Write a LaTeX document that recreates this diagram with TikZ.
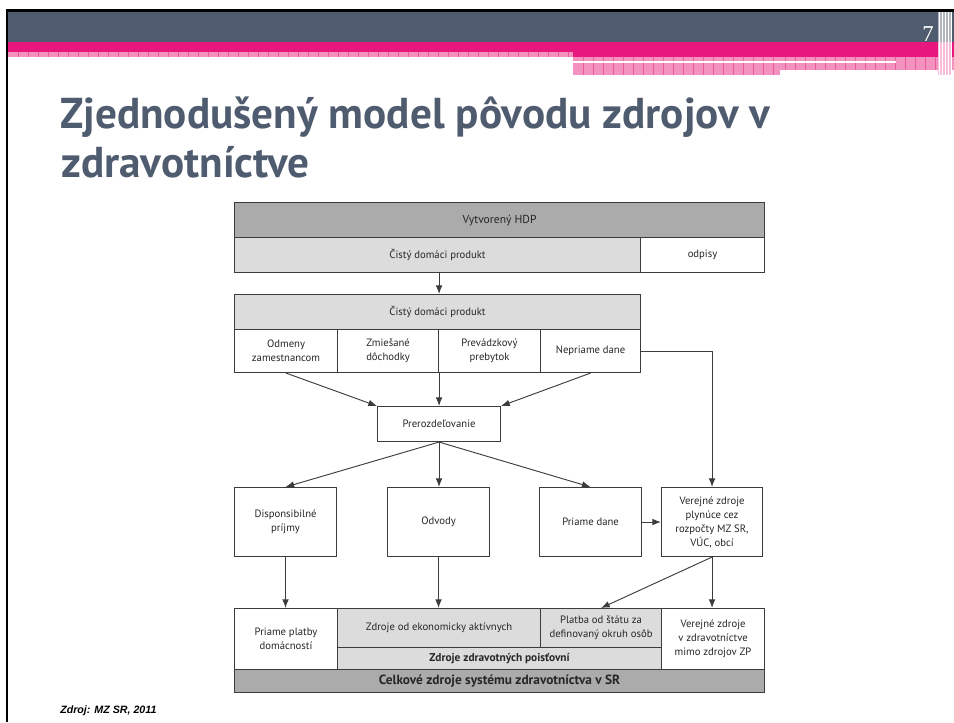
\documentclass[tikz,border=0pt]{standalone}
\usepackage{fontspec}
\setmainfont{PT Sans}
\newfontfamily\footfont{Liberation Sans}
\newfontfamily\numfont{Liberation Serif}
\usetikzlibrary{arrows.meta}

\definecolor{slate}{HTML}{4F5B6E}
\definecolor{pinkband}{HTML}{E8177D}
\definecolor{pinklight}{HTML}{F391BF}
\definecolor{pinkline}{HTML}{EC5A9E}
\definecolor{bandgray}{HTML}{ABABAB}
\definecolor{cellgray}{HTML}{DCDCDC}
\definecolor{linegray}{HTML}{3C3C3C}
\definecolor{textgray}{HTML}{262626}

\tikzset{
  cell/.style={draw=linegray, line width=0.8pt, anchor=north west, inner sep=1pt,
    align=center, text=textgray, font=\fontsize{8}{10.5}\selectfont},
  dims/.style 2 args={minimum width=#1*0.75pt, minimum height=#2*0.75pt},
  flow/.style={draw=linegray, line width=0.7pt, -{Latex[length=6.5pt,width=5pt]}},
}

\begin{document}
\begin{tikzpicture}[x=0.75pt,y=-0.75pt]
	\useasboundingbox (0,0) rectangle (954,722);
	
	% frame and banner
	\fill[black] (6,9) rectangle (954,11.7);
	\fill[black] (6,9) rectangle (8.3,722);
	\fill[slate] (8.3,11.7) rectangle (954,41.7);
	\fill[pinkband] (8.3,41.7) rectangle (954,51.7);
	\fill[pinkband] (573,51.7) rectangle (954,56.7);
	\fill[pinklight] (8.3,51.7) rectangle (573,56.7);
	\fill[pinklight] (573,56.7) rectangle (954,70);
	\fill[pinklight] (573,70) rectangle (780,75);
	\foreach \x in {18,28,...,568}
		\draw[pinkline, line width=0.5pt] (\x,51.7) -- (\x,56.7);
	\foreach \x in {583,593,...,775}
		\draw[pinkline, line width=0.5pt] (\x,56.7) -- (\x,75);
	\foreach \x in {785,795,...,935}
		\draw[pinkline, line width=0.5pt] (\x,56.7) -- (\x,70);
	\fill[white] (573,61.3) rectangle (896,63.3);
	\fill[slate!45!white] (938,11.7) rectangle (952,41.7);
	\fill[pinklight!60!white] (938,41.7) rectangle (952,75);
	\draw[white, line width=0.4pt, step=3] (938,12) grid (952,75);
	\node[anchor=base east, text=white, font=\numfont\fontsize{17}{17}\selectfont, inner sep=0pt] (num) at (934,41) {7};
	
	% title
	\node[anchor=base west, inner sep=0pt, text=slate, font=\bfseries\fontsize{32.4}{38}\selectfont] (titlea) at (60,128) {Zjednodušený model pôvodu zdrojov v};
	\node[anchor=base west, inner sep=0pt, text=slate, font=\bfseries\fontsize{32.4}{38}\selectfont] (titleb) at (61,177) {zdravotníctve};
	
	% HDP
	\node[cell, fill=bandgray, dims={530}{35}, font=\fontsize{8.7}{10}\selectfont] (hdp) at (234,202) {Vytvorený HDP};
	\node[cell, fill=cellgray, dims={406}{35}] (cdpa) at (234,237) {Čistý domáci produkt};
	\node[cell, fill=white, dims={124}{35}] (odpisy) at (640,237) {odpisy};
	
	% NDP
	\node[cell, fill=cellgray, dims={406}{35}] (cdpb) at (234,294) {Čistý domáci produkt};
	\node[cell, dims={103}{43}] (odmeny) at (234,329) {Odmeny\\zamestnancom};
	\node[cell, dims={101}{43}] (zmiesane) at (337,329) {Zmiešané\\dôchodky};
	\node[cell, dims={102}{43}] (prevadz) at (438,329) {Prevádzkový\\prebytok};
	\node[cell, dims={100}{43}] (nepriame) at (540,329) {Nepriame dane};
	
	\node[cell, dims={123}{35}] (prerozd) at (377,406) {Prerozdeľovanie};
	
	\node[cell, dims={102}{69}] (disp) at (234,487) {Disponsibilné\\príjmy};
	\node[cell, dims={102}{69}] (odvody) at (387,487) {Odvody};
	\node[cell, dims={102}{69}] (priame) at (539,487) {Priame dane};
	\node[cell, dims={101}{69}] (verejne) at (661,487) {Verejné zdroje\\plynúce cez\\rozpočty MZ SR,\\VÚC, obcí};
	
	% zdroje
	\node[cell, fill=white, dims={103}{61}] (platby) at (234,608) {Priame platby\\domácností};
	\node[cell, fill=cellgray, dims={203}{39}] (aktivne) at (337,608) {Zdroje od ekonomicky aktívnych};
	\node[cell, fill=cellgray, dims={121}{39}] (platba) at (540,608) {Platba od štátu za\\definovaný okruh osôb};
	\node[cell, fill=cellgray, dims={324}{22}, font=\bfseries\fontsize{8.5}{10}\selectfont] (poist) at (337,647) {Zdroje zdravotných poisťovní};
	\node[cell, fill=white, dims={103}{61}] (mimo) at (661,608) {Verejné zdroje\\v zdravotníctve\\mimo zdrojov ZP};
	\node[cell, fill=bandgray, dims={530}{23}, font=\bfseries\fontsize{10}{11}\selectfont] (celk) at (234,669) {Celkové zdroje systému zdravotníctva v SR};
	
	% flows
	\draw[flow] (zmiesane.east |- cdpa.south) -- (zmiesane.east |- cdpb.north);
	\draw[flow] (odmeny.south) -- (prerozd.north west);
	\draw[flow] (zmiesane.south east) -- (zmiesane.south east |- prerozd.north);
	\draw[flow] (nepriame.south) -- (prerozd.north east);
	\draw[flow] (nepriame.east) -| (verejne.north);
	\draw[flow] (prerozd.south) -- (disp.north);
	\draw[flow] (prerozd.south) -- (prerozd.south |- odvody.north);
	\draw[flow] (prerozd.south) -- (priame.north);
	\draw[flow] (priame.east) -- (verejne.west);
	\draw[flow] (disp.south) -- (disp.south |- platby.north);
	\draw[flow] (odvody.south) -- (odvody.south |- aktivne.north);
	\draw[flow] (verejne.south) -- (platba.north);
	\draw[flow] (verejne.south) -- (verejne.south |- mimo.north);
	
	\node[anchor=base west, inner sep=0pt, font=\footfont\bfseries\itshape\fontsize{8}{10}\selectfont] (zdroj) at (60,713) {Zdroj: MZ SR, 2011};
	
\end{tikzpicture}
\end{document}
